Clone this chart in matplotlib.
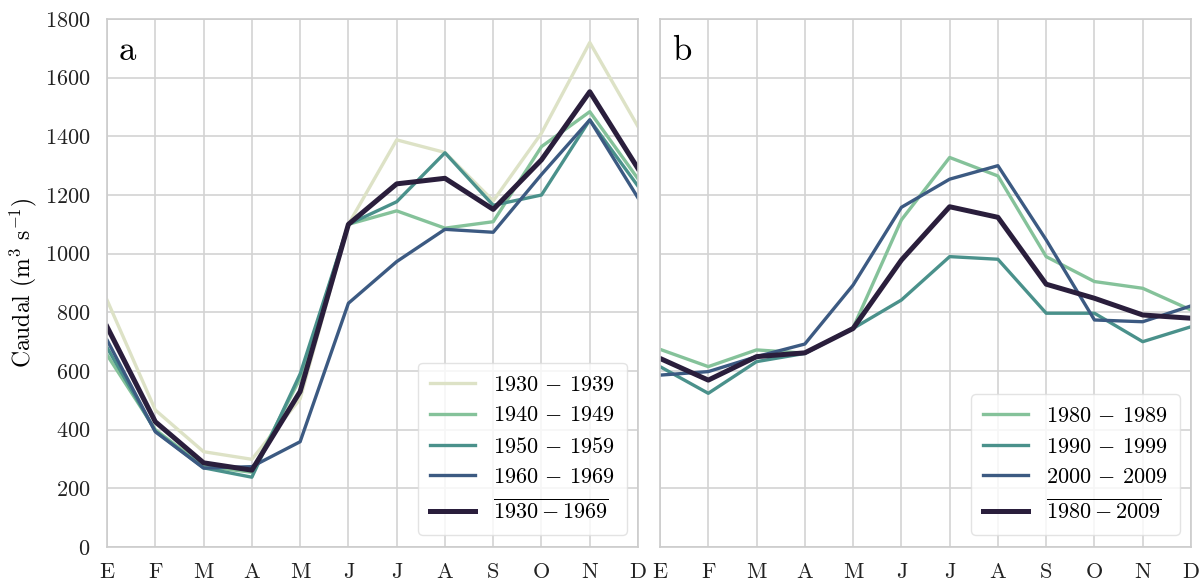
import matplotlib
matplotlib.use("Agg")
import matplotlib.pyplot as plt
import numpy as np

plt.rcParams['font.family'] = 'serif'
plt.rcParams['font.serif'] = ['cmr10', 'DejaVu Serif']
plt.rcParams['mathtext.fontset'] = 'cm'
plt.rcParams['axes.formatter.use_mathtext'] = True

months = ["E", "F", "M", "A", "M", "J", "J", "A", "S", "O", "N", "D"]

# Panel a
a_1930 = [842, 467, 325, 299, 505, 1100, 1388, 1345, 1180, 1411, 1720, 1433]
a_1940 = [655, 400, 275, 255, 575, 1100, 1146, 1087, 1109, 1365, 1484, 1255]
a_1950 = [680, 395, 270, 238, 590, 1100, 1177, 1344, 1165, 1200, 1456, 1230]
a_1960 = [706, 393, 269, 274, 359, 831, 973, 1083, 1073, 1270, 1456, 1190]
a_mean = [751, 427, 287, 262, 530, 1100, 1238, 1257, 1151, 1320, 1552, 1290]

# Panel b
b_1980 = [674, 615, 672, 661, 747, 1115, 1328, 1265, 990, 905, 882, 808]
b_1990 = [615, 524, 632, 660, 745, 842, 990, 981, 797, 797, 700, 751]
b_2000 = [586, 598, 649, 692, 893, 1158, 1254, 1300, 1047, 774, 768, 822]
b_mean = [643, 569, 649, 662, 745, 978, 1160, 1124, 896, 848, 791, 780]

c_beige = "#dde2c6"
c_green = "#85c29a"
c_teal = "#4a918b"
c_blue = "#3c5a82"
c_dark = "#2a1e3c"

fig = plt.figure(figsize=(12, 5.83), dpi=100)
ax1 = fig.add_axes([0.0892, 0.0617, 0.4425, 0.9057])
ax2 = fig.add_axes([0.55, 0.0617, 0.4425, 0.9057], sharey=ax1)

x = np.arange(12)

def style(ax):
    ax.set_facecolor('white')
    ax.grid(True, color='#d3d3d3', linewidth=1.2)
    ax.set_axisbelow(True)
    for s in ax.spines.values():
        s.set_color('#cccccc')
        s.set_linewidth(1.2)
    ax.tick_params(length=0, labelsize=16, colors='#222222')
    ax.tick_params(axis='x', pad=11)
    ax.tick_params(axis='y', pad=12)
    ax.set_xlim(0, 11)
    ax.set_xticks(x)
    ax.set_xticklabels(months)
    ax.set_ylim(0, 1800)
    ax.set_yticks(np.arange(0, 1801, 200))

lw = 2.4
lwm = 3.6
ax1.plot(x, a_1930, color=c_beige, lw=lw, label=r"1930 $-$ 1939")
ax1.plot(x, a_1940, color=c_green, lw=lw, label=r"1940 $-$ 1949")
ax1.plot(x, a_1950, color=c_teal, lw=lw, label=r"1950 $-$ 1959")
ax1.plot(x, a_1960, color=c_blue, lw=lw, label=r"1960 $-$ 1969")
ax1.plot(x, a_mean, color=c_dark, lw=lwm, label=r"$\overline{\mathrm{1930-1969}}$")

ax2.plot(x, b_1980, color=c_green, lw=lw, label=r"1980 $-$ 1989")
ax2.plot(x, b_1990, color=c_teal, lw=lw, label=r"1990 $-$ 1999")
ax2.plot(x, b_2000, color=c_blue, lw=lw, label=r"2000 $-$ 2009")
ax2.plot(x, b_mean, color=c_dark, lw=lwm, label=r"$\overline{\mathrm{1980-2009}}$")

for ax in (ax1, ax2):
    style(ax)
    leg = ax.legend(loc='lower right', fontsize=16, frameon=True, fancybox=True,
                    handlelength=2.0, borderpad=0.55, labelspacing=0.5,
                    handletextpad=0.8, borderaxespad=0,
                    bbox_to_anchor=(0.979, 0.023))
    leg.get_frame().set_edgecolor('#dddddd')
    leg.get_frame().set_alpha(0.8)

plt.setp(ax2.get_yticklabels(), visible=False)

ax1.set_ylabel(r"Caudal (m$^3$ s$^{-1}$)", fontsize=17, labelpad=4)

ax1.text(0.022, 0.94, "a", transform=ax1.transAxes, fontsize=25, va='center', ha='left')
ax2.text(0.022, 0.94, "b", transform=ax2.transAxes, fontsize=25, va='center', ha='left')

fig.savefig("out.png", dpi=100)
